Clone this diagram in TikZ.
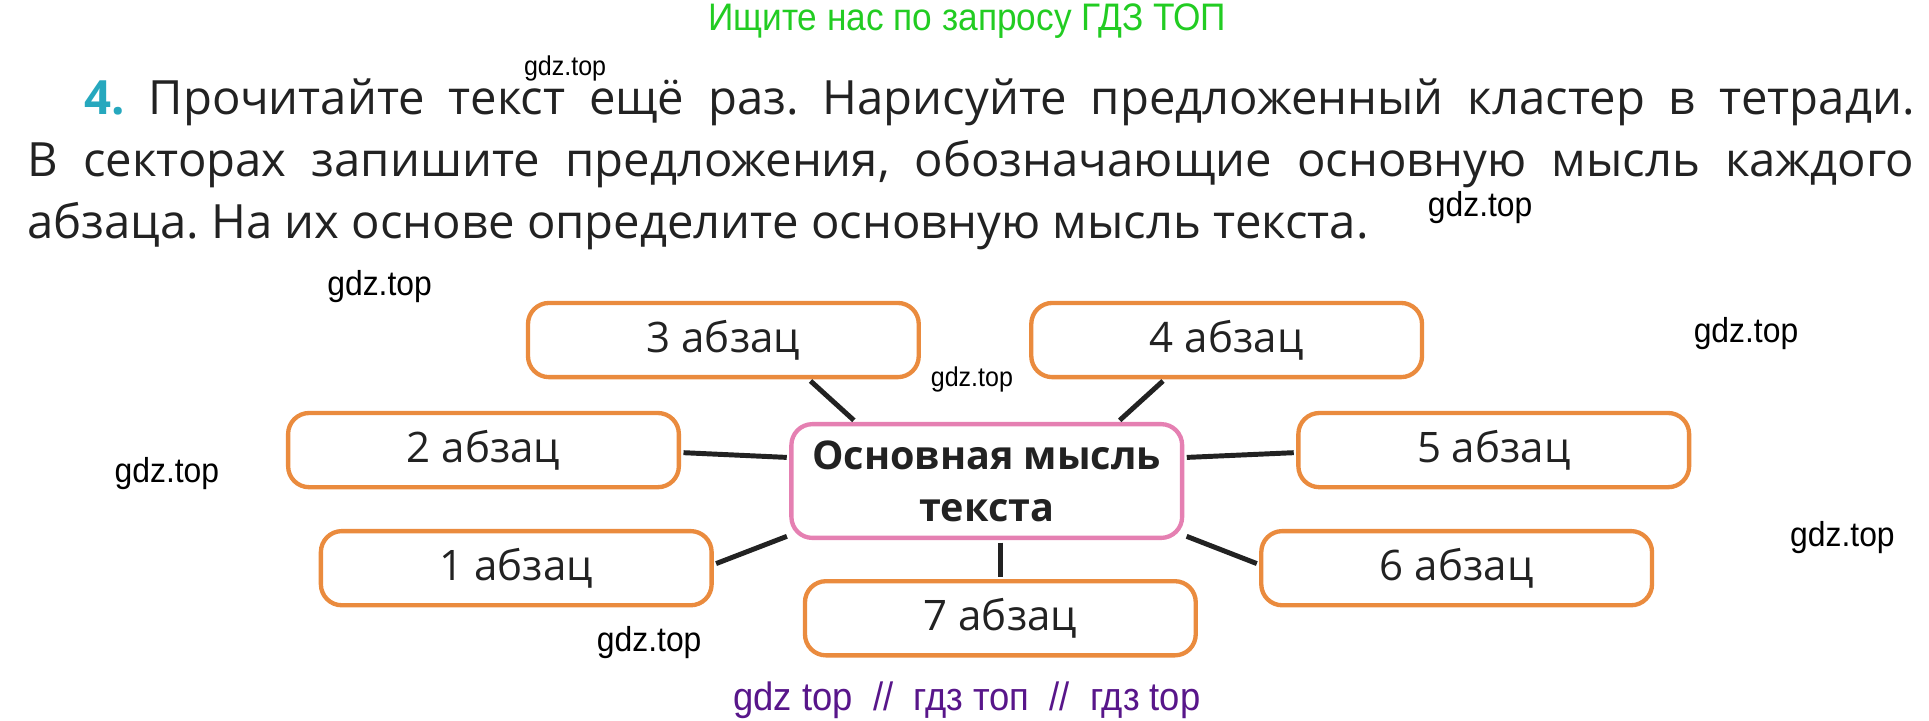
\documentclass[tikz,border=0pt]{standalone}
\usepackage{fontspec}
\setmainfont{Open Sans}
\newfontfamily\narrowfont[FakeStretch=0.92]{Liberation Sans}
\usetikzlibrary{positioning}
\definecolor{boxorange}{RGB}{234,139,62}
\definecolor{mainpink}{RGB}{229,128,178}
\definecolor{numteal}{RGB}{38,168,190}
\definecolor{headgreen}{RGB}{34,204,34}
\definecolor{footpurple}{RGB}{88,22,138}
\definecolor{inkgray}{RGB}{34,34,34}
\frenchspacing
\tikzset{
        x=1pt, y=-1pt, % one unit is one pixel of the page
        para/.style={draw=boxorange, line width=3.5pt, rounded corners=17pt,
            minimum width=316pt, minimum height=60pt, text=inkgray,
            font=\fontsize{34}{40}\selectfont}, % the seven small boxes
        mainbox/.style={draw=mainpink, line width=3.5pt, rounded corners=17pt,
            minimum width=316pt, minimum height=92pt, align=center, text=inkgray,
            font=\bfseries\fontsize{32}{42}\selectfont},
        link/.style={draw=inkgray, line width=4pt, shorten <=2pt, shorten >=2pt},
        task/.style={anchor=base west, inner sep=0pt, text=inkgray,
            font=\fontsize{38.2}{44}\selectfont},
        wm/.style={inner sep=0pt, font=\narrowfont\fontsize{28}{28}\selectfont},
        wmsmall/.style={inner sep=0pt, font=\narrowfont\fontsize{22}{22}\selectfont},
    }
\begin{document}
\begin{tikzpicture}
    \useasboundingbox (0,0) rectangle (1560,583);
    \node[inner sep=0pt, text=headgreen, font=\narrowfont\fontsize{31}{31}\selectfont] (head) at (782,17) {Ищите нас по запросу ГДЗ ТОП};
    % task text
    \node[task] (task1) at (68,93) {\makebox[1480pt][s]{\textcolor{numteal}{\textbf{4.}} Прочитайте текст ещё раз. Нарисуйте предложенный кластер в тетради.}};
    \node[task] (task2) at (22,143) {\makebox[1526pt][s]{В секторах запишите предложения, обозначающие основную мысль каждого}};
    \node[task] (task3) at (22,193) {абзаца. На их основе определите основную мысль текста.};
    % cluster
    \node[mainbox] (main) at (798,389) {Основная мысль\\текста};
    \node[para] (p3) at (585,275) {3 абзац};
    \node[para] (p4) at (992,275) {4 абзац};
    \node[para] (p2) at (391,364) {2 абзац};
    \node[para] (p5) at (1208,364) {5 абзац};
    \node[para] (p1) at (417.5,459.5) {1 абзац};
    \node[para] (p6) at (1178,459.5) {6 абзац};
    \node[para] (p7) at (809,500) {7 абзац};
    \draw[link] ([xshift=69pt]p3.south) -- ([xshift=-106pt]main.north);
    \draw[link] ([xshift=-50pt]p4.south) -- ([xshift=106pt]main.north);
    \draw[link] ([yshift=-2pt]p2.east) -- ([yshift=19pt]main.west);
    \draw[link] ([yshift=19pt]main.east) -- ([yshift=-2pt]p5.west);
    \draw[link] ([yshift=3pt]p1.east) -- ([yshift=-44pt]main.west);
    \draw[link] ([yshift=-44pt]main.east) -- ([yshift=3pt]p6.west);
    \draw[link] ([xshift=11pt]main.south) -- (p7.north);
    % watermarks
    \node[wmsmall] (wm1) at (457,55) {gdz.top};
    \node[wm] (wm2) at (1197,168) {gdz.top};
    \node[wm] (wm3) at (307,232) {gdz.top};
    \node[wmsmall] (wm4) at (786,307) {gdz.top};
    \node[wm] (wm5) at (1412,270) {gdz.top};
    \node[wm] (wm6) at (135,383) {gdz.top};
    \node[wm] (wm7) at (1490,435) {gdz.top};
    \node[wm] (wm8) at (525,520) {gdz.top};
    \node[inner sep=0pt, text=footpurple, font=\narrowfont\fontsize{32}{32}\selectfont] (foot) at (782,566) {gdz top \ // \ гдз топ \ // \ гдз top};
\end{tikzpicture}
\end{document}
